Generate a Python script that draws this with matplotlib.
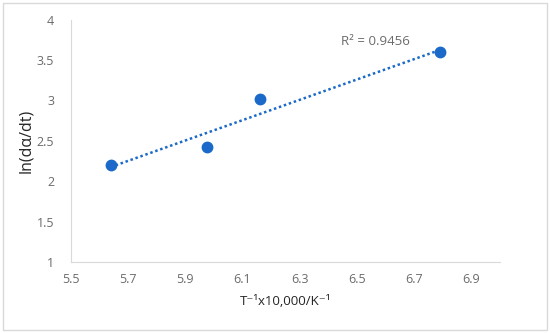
import numpy as np
import matplotlib.pyplot as plt
from matplotlib.patches import Rectangle

# data
inv_T = [5.639, 5.977, 6.162, 6.792]
ln_rate = [2.203, 2.426, 3.012, 3.598]
x_ticks = [5.5, 5.7, 5.9, 6.1, 6.3, 6.5, 6.7, 6.9]
y_ticks = [1, 1.5, 2, 2.5, 3, 3.5, 4]
r2_label = "R² = 0.9456"

plt.rcParams['font.family'] = ['Open Sans', 'DejaVu Sans']

fig = plt.figure(figsize=(5.5, 3.33), dpi=100)
ax = fig.add_axes([0.129, 0.213, 0.78, 0.728])

blue = '#1b6ac9'
grey = '#6b6b6b'

# linear trendline
coef = np.polyfit(inv_T, ln_rate, 1)
xs = np.array([inv_T[0], inv_T[-1]])
ax.plot(xs, np.polyval(coef, xs), linestyle=(0, (1, 1.1)), color=blue, lw=1.8, zorder=2)
ax.plot(inv_T, ln_rate, 'o', color=blue, ms=7.5, zorder=3)

ax.set_xlim(5.5, 7.0)
ax.set_ylim(1, 4)
ax.set_xticks(x_ticks)
ax.set_yticks(y_ticks)
ax.set_xticklabels([f"{v:g}" for v in x_ticks])
ax.set_yticklabels([f"{v:g}" for v in y_ticks])
ax.tick_params(length=0, labelsize=9, colors=grey, pad=8)
ax.tick_params(axis='y', pad=12)

for s in ['top', 'right']:
    ax.spines[s].set_visible(False)
for s in ['left', 'bottom']:
    ax.spines[s].set_color('#d9d9d9')

ax.set_xlabel("T⁻¹x10,000/K⁻¹", fontsize=9.5, color='#262626', labelpad=6)
ax.set_ylabel("ln(dα/dt)", fontsize=11.5, color='#262626', labelpad=2)

ax.text(6.445, 3.73, r2_label, fontsize=9.5, color=grey, ha='left', va='center')

# outer frame
fig.patches.append(Rectangle((0.005, 0.008), 0.99, 0.984, transform=fig.transFigure,
                             fill=False, edgecolor='#d9d9d9', lw=1))

fig.savefig('out.png', dpi=100)
